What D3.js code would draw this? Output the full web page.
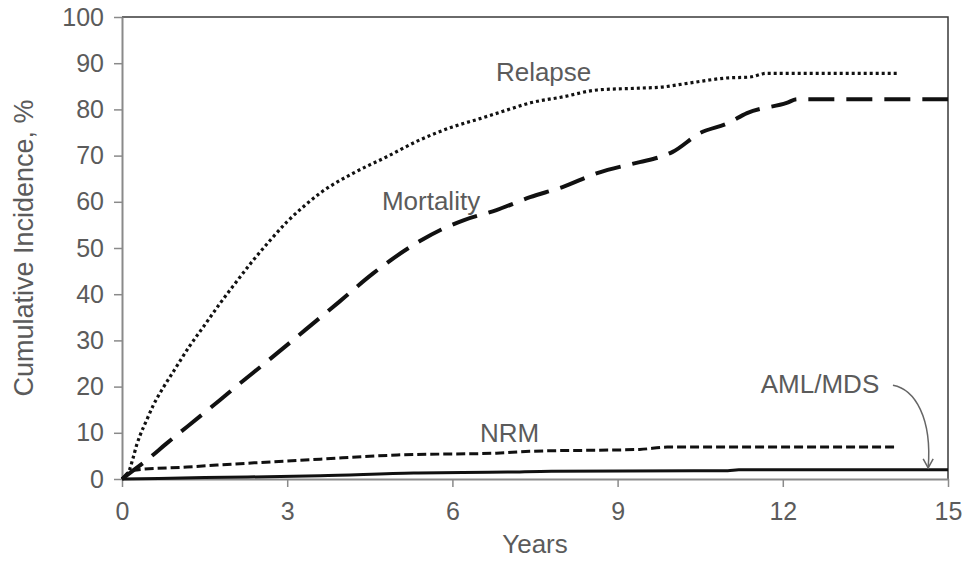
<!DOCTYPE html>
<html>
<head>
<meta charset="utf-8">
<script src="https://cdn.jsdelivr.net/npm/d3@7"></script>
<style>
  body { margin: 0; background: #fff; }
  svg { display: block; font-family: "Liberation Sans", Arial, sans-serif; }
</style>
</head>
<body>
<div id="chart"></div>
<script>
// axis ticks
const xTicks = [0, 3, 6, 9, 12, 15];
const yTicks = [0, 10, 20, 30, 40, 50, 60, 70, 80, 90, 100];

// series (years, cumulative incidence %)
const relapseYears  = [0, 0.12, 0.2, 0.27, 0.33, 0.45, 0.57, 0.75, 0.93, 1.23, 1.5, 1.78, 2.02, 2.38, 2.7, 3.0, 3.3, 3.6, 4.2, 4.8, 5.41, 6.0, 6.5, 7.0, 7.41, 8.0, 8.63, 9.4, 9.77, 10.3, 10.98, 11.4, 11.7, 14.07];
const relapseValues = [0, 1.5, 4.5, 7.5, 9.5, 12.8, 16.0, 19.8, 23.2, 28.8, 33.3, 38.0, 41.8, 47.3, 51.8, 55.7, 59.0, 61.9, 66.2, 69.7, 73.4, 76.2, 78.0, 79.9, 81.4, 82.7, 84.2, 84.6, 84.8, 85.7, 86.8, 87.0, 87.8, 87.8];

const mortalityYears  = [0, 0.2, 0.45, 0.8, 1.42, 1.78, 2.02, 2.63, 3.2, 3.96, 4.56, 5.41, 5.8, 6.2, 6.8, 7.41, 8.0, 8.63, 9.4, 9.77, 10.0, 10.5, 11.0, 11.35, 12.07, 12.26, 15];
const mortalityValues = [0, 1.8, 4.1, 7.6, 13.6, 17.1, 19.5, 25.4, 31, 38.5, 44.5, 51.5, 54, 56, 58.2, 61, 63.2, 66.2, 68.6, 69.7, 70.8, 74.9, 77, 79.2, 81.4, 82.2, 82.2];

const nrmYears  = [0, 0.2, 1.18, 2.4, 3.6, 5.0, 6.8, 7.4, 9.4, 9.9, 14.07];
const nrmValues = [0, 1.9, 2.6, 3.5, 4.3, 5.2, 5.6, 6.0, 6.4, 6.9, 6.9];

const amlYears  = [0, 1.5, 3.6, 5.3, 7.0, 7.8, 11.0, 11.2, 15];
const amlValues = [0, 0.3, 0.7, 1.3, 1.5, 1.7, 1.8, 2.0, 2.0];

// curve labels, anchored in data units
const labelText  = ["Relapse", "Mortality", "NRM", "AML/MDS"];
const labelYears = [6.79, 4.72, 6.5, 11.6];
const labelPct   = [86.1, 58.2, 8.0, 18.6];

const width = 970, height = 564;
const margin = {top: 17, right: 22, bottom: 85, left: 122};
const innerW = width - margin.left - margin.right;
const innerH = height - margin.top - margin.bottom;
const textColor = "#5b5b5b";

const svg = d3.select("#chart").append("svg")
  .attr("width", width)
  .attr("height", height);

const plot = svg.append("g")
  .attr("transform", `translate(${margin.left},${margin.top})`);

const x = d3.scaleLinear().domain([0, 15]).range([0, innerW]);
const y = d3.scaleLinear().domain([0, 100]).range([innerH, 0]);

// frame top/right
plot.append("path")
  .attr("d", `M0,0H${innerW}V${innerH}`)
  .attr("fill", "none")
  .attr("stroke", "#3a3a3a")
  .attr("stroke-width", 1.5);

const yAxis = plot.append("g")
  .call(d3.axisLeft(y).tickValues(yTicks).tickSize(8).tickPadding(10).tickSizeOuter(0));
const xAxis = plot.append("g")
  .attr("transform", `translate(0,${innerH})`)
  .call(d3.axisBottom(x).tickValues(xTicks).tickSize(8).tickPadding(15).tickSizeOuter(0));

[yAxis, xAxis].forEach(g => {
  g.select(".domain").attr("stroke", "#8a8a8a").attr("stroke-width", 2);
  g.selectAll(".tick line").attr("stroke", "#8a8a8a").attr("stroke-width", 1.5);
  g.selectAll(".tick text")
    .attr("fill", textColor)
    .style("font-size", "25px")
    .style("font-family", "'Liberation Sans', Arial, sans-serif");
});

// axis titles
svg.append("text")
  .attr("transform", `translate(33,${margin.top + innerH / 2}) rotate(-90)`)
  .attr("text-anchor", "middle")
  .attr("fill", textColor)
  .style("font-size", "27px")
  .text("Cumulative Incidence, %");

svg.append("text")
  .attr("x", margin.left + x(7.5))
  .attr("y", 553)
  .attr("text-anchor", "middle")
  .attr("fill", textColor)
  .style("font-size", "26px")
  .text("Years");

// curves
const line = d3.line()
  .curve(d3.curveMonotoneX)
  .x(d => x(d[0]))
  .y(d => y(d[1]));

const series = [
  {years: amlYears, values: amlValues, dash: null, w: 3},
  {years: nrmYears, values: nrmValues, dash: "9,4", w: 3},
  {years: mortalityYears, values: mortalityValues, dash: "26,12", w: 4},
  {years: relapseYears, values: relapseValues, dash: "3,3", w: 3.2}
];

series.forEach(s => {
  plot.append("path")
    .datum(d3.zip(s.years, s.values))
    .attr("d", line)
    .attr("fill", "none")
    .attr("stroke", "#111")
    .attr("stroke-width", s.w)
    .attr("stroke-dasharray", s.dash);
});

// labels
plot.selectAll(".lbl")
  .data(labelText)
  .enter().append("text")
  .attr("class", "lbl")
  .attr("x", (d, i) => x(labelYears[i]))
  .attr("y", (d, i) => y(labelPct[i]))
  .attr("fill", textColor)
  .style("font-size", "26px")
  .text(d => d);

// arrow from AML/MDS label down to its curve
const a0 = [x(14.0), y(20.3)];
const a1 = [x(14.64), y(2.4)];
plot.append("path")
  .attr("d", `M${a0[0]},${a0[1]} C${a0[0] + 22},${a0[1] + 4} ${a1[0] + 4},${a1[1] - 50} ${a1[0]},${a1[1]}`)
  .attr("fill", "none")
  .attr("stroke", "#666")
  .attr("stroke-width", 1.5);
plot.append("path")
  .attr("d", `M${a1[0] - 5},${a1[1] - 9} L${a1[0]},${a1[1]} L${a1[0] + 5},${a1[1] - 9}`)
  .attr("fill", "none")
  .attr("stroke", "#666")
  .attr("stroke-width", 1.5);
</script>
</body>
</html>
